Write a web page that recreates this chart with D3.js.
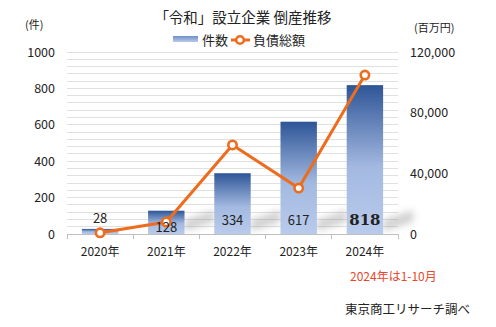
<!DOCTYPE html>
<html><head><meta charset="utf-8">
<script src="https://cdn.jsdelivr.net/npm/d3@7/dist/d3.min.js"></script>
<style>
body{margin:0;background:#fff;}
text{font-family:"Noto Sans CJK JP","Noto Sans",sans-serif;fill:#222;}
</style></head><body>
<svg id="c" width="496" height="327"></svg>
<script>
const categories = ["2020年","2021年","2022年","2023年","2024年"];
const counts = [28,128,334,617,818];
const debts = [800,7900,58700,30300,104800];
const leftTicks = [0,200,400,600,800,1000];
const rightTicks = [0,40000,80000,120000];

const svg = d3.select("#c");
const L = 67, R = 398, T = 52, B = 234;
const x = d3.scaleBand().domain(categories).range([L,R]).paddingInner(0.45).paddingOuter(0.225);
const xb = d3.scaleBand().domain(categories).range([L,R]);
const y = d3.scaleLinear().domain([0,1000]).range([B,T]);
const y2 = d3.scaleLinear().domain([0,120000]).range([B,T]);

const defs = svg.append("defs");
const g = defs.append("linearGradient").attr("id","bg").attr("x1",0).attr("y1",0).attr("x2",0).attr("y2",1);
g.append("stop").attr("offset","0%").attr("stop-color","#2e5597");
g.append("stop").attr("offset","55%").attr("stop-color","#a3b9e0");
g.append("stop").attr("offset","100%").attr("stop-color","#b9cbec");
const lg = defs.append("linearGradient").attr("id","lg").attr("x1",0).attr("y1",0).attr("x2",0).attr("y2",1);
lg.append("stop").attr("offset","0%").attr("stop-color","#6f8fc7");
lg.append("stop").attr("offset","100%").attr("stop-color","#b9cbec");
defs.append("filter").attr("id","blur").attr("x","-50%").attr("y","-50%").attr("width","200%").attr("height","200%")
  .append("feGaussianBlur").attr("stdDeviation",3.5);

// gridlines every 40
const grid = d3.range(0,1001,40);
svg.append("g").selectAll("line").data(grid).join("line")
  .attr("x1",L).attr("x2",R).attr("y1",d=>y(d)).attr("y2",d=>y(d))
  .attr("stroke","#e0e0e0").attr("stroke-width",1).attr("shape-rendering","crispEdges");

// shadows
svg.append("g").selectAll("path").data(categories.slice(1)).join("path")
  .attr("d",(d,i)=>{const x0=x(d)+x.bandwidth(), h=Math.min(14, B-y(counts[i+1])); return `M${x0},${B-3} L${x0},${B-h} L${x0+30},${B-h-10} L${x0+30},${B-h+2} Z`;})
  .attr("fill","#8c8c8c").attr("opacity",0.4).attr("filter","url(#blur)");

// bars
svg.append("g").selectAll("rect").data(categories).join("rect")
  .attr("x",d=>x(d)).attr("width",x.bandwidth())
  .attr("y",(d,i)=>y(counts[i])).attr("height",(d,i)=>B-y(counts[i]))
  .attr("fill","url(#bg)");

// x axis
const xa = svg.append("g").attr("transform",`translate(0,${B})`)
  .call(d3.axisBottom(xb).tickSize(0).tickPadding(13));
xa.select(".domain").attr("stroke","#bfbfbf");
xa.selectAll("text").attr("font-size",12).attr("fill","#222").style("font-family",'"Noto Sans CJK JP",sans-serif');
svg.append("g").selectAll("line").data(d3.range(categories.length+1)).join("line")
  .attr("x1",i=>L+i*xb.step()).attr("x2",i=>L+i*xb.step()).attr("y1",B).attr("y2",B+5)
  .attr("stroke","#bfbfbf").attr("shape-rendering","crispEdges");

// left axis
const ya = svg.append("g").attr("transform",`translate(${L},0)`)
  .call(d3.axisLeft(y).tickValues(leftTicks).tickSize(0).tickPadding(12).tickFormat(d3.format("d")));
ya.select(".domain").remove();
ya.selectAll("text").attr("font-size",12.5).attr("fill","#222").style("font-family",'"Noto Sans CJK JP",sans-serif');

// right axis
const ra = svg.append("g").attr("transform",`translate(${R},0)`)
  .call(d3.axisRight(y2).tickValues(rightTicks).tickSize(0).tickPadding(12).tickFormat(d3.format(",")));
ra.select(".domain").remove();
ra.selectAll("text").attr("font-size",12.5).attr("fill","#222").style("font-family",'"Noto Sans CJK JP",sans-serif');

// line
const cx = d => xb(d)+xb.bandwidth()/2;
svg.append("path").datum(categories)
  .attr("d",d3.line().x(cx).y((d,i)=>y2(debts[i])))
  .attr("fill","none").attr("stroke","#ed6d1f").attr("stroke-width",3);
svg.append("g").selectAll("circle").data(categories).join("circle")
  .attr("cx",cx).attr("cy",(d,i)=>y2(debts[i])).attr("r",4.2)
  .attr("fill","#fff").attr("stroke","#ed6d1f").attr("stroke-width",2.6);

// data labels
svg.append("g").selectAll("text").data(categories).join("text")
  .attr("x",cx).attr("text-anchor","middle")
  .attr("y",(d,i)=> i===0 ? y(counts[0])-6 : (i===1 ? B-2 : B-9))
  .attr("font-size",(d,i)=>i===4?15:13)
  .attr("font-weight",(d,i)=>i===4?"bold":"normal")
  .style("font-family",(d,i)=>i===4?'"DejaVu Serif",serif':'"Noto Sans CJK JP",sans-serif')
  .text((d,i)=>counts[i]);

// title
svg.append("text").attr("x",243).attr("y",23).attr("text-anchor","middle").attr("font-size",14.5).text("「令和」設立企業 倒産推移");
// legend
svg.append("rect").attr("x",173).attr("y",36).attr("width",25).attr("height",6).attr("fill","url(#lg)");
svg.append("text").attr("x",202).attr("y",45).attr("font-size",13).text("件数");
svg.append("line").attr("x1",231).attr("x2",250).attr("y1",40).attr("y2",40).attr("stroke","#ed6d1f").attr("stroke-width",3);
svg.append("circle").attr("cx",240).attr("cy",40).attr("r",3.8).attr("fill","#fff").attr("stroke","#ed6d1f").attr("stroke-width",2.6);
svg.append("text").attr("x",253).attr("y",45).attr("font-size",13).text("負債総額");

svg.append("text").attr("x",25).attr("y",29).attr("font-size",11).text("(件)");
svg.append("text").attr("x",414).attr("y",32).attr("font-size",11).text("(百万円)");
svg.append("text").attr("x",350).attr("y",281).attr("font-size",12).style("fill","#e8472c").text("2024年は1-10月");
svg.append("text").attr("x",345).attr("y",314).attr("font-size",12.5).text("東京商工リサーチ調べ");
</script></body></html>
